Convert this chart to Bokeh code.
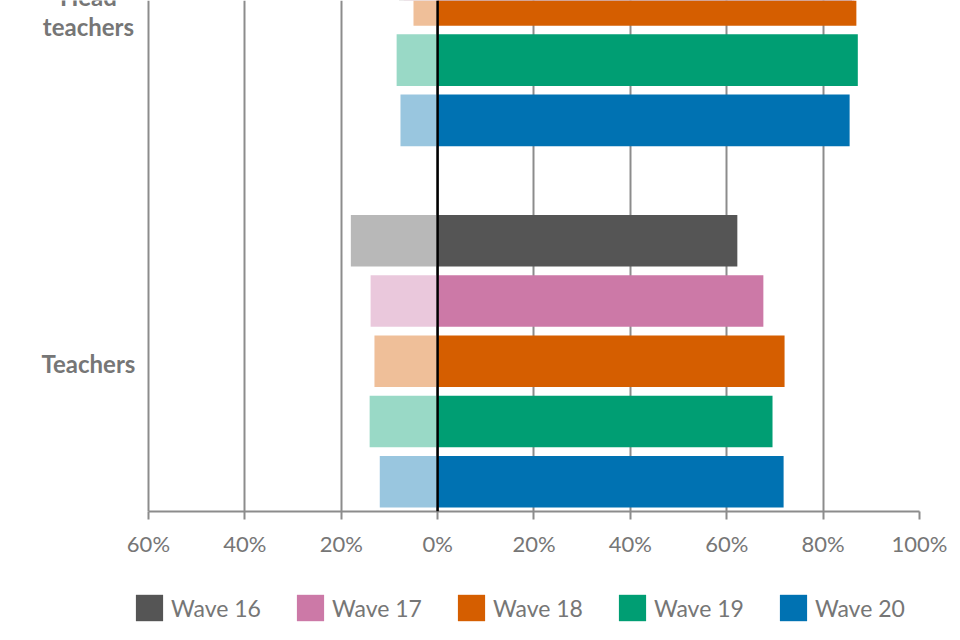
from bokeh.plotting import figure
from bokeh.models import Span, Legend, LegendItem, FixedTicker, Range1d, ColumnDataSource
from bokeh.layouts import column
from bokeh.core.properties import value
from bokeh.embed import file_html
from bokeh.resources import INLINE

groups = ["Teachers", "Head teachers"]
waves = ["Wave 16", "Wave 17", "Wave 18", "Wave 19", "Wave 20"]
# share (fraction) per group and wave: negative side and positive side
teachers_neg = [-0.180, -0.139, -0.131, -0.141, -0.120]
teachers_pos = [0.622, 0.676, 0.720, 0.695, 0.718]
head_neg = [-0.080, -0.070, -0.050, -0.085, -0.077]
head_pos = [0.860, 0.865, 0.869, 0.872, 0.855]
dark_colors = ["#555555", "#cc79a7", "#d55e00", "#009e73", "#0072b2"]
light_colors = ["#b8b8b8", "#eac8dc", "#efbf99", "#99d9c6", "#99c6df"]
x_ticks = [-0.6, -0.4, -0.2, 0.0, 0.2, 0.4, 0.6, 0.8, 1.0]
x_tick_labels = ["60%", "40%", "20%", "0%", "20%", "40%", "60%", "80%", "100%"]

TEXT = "#767676"
GRID = "#8c8c8c"
FONT = "Lato"

n = len(waves)
# slot positions: Teachers waves 16..20 -> 4..0, Head teachers -> 10..6
teach_y = [n - 1 - i for i in range(n)]
head_y = [2 * n - i for i in range(n)]
centers = [sum(teach_y) / n, sum(head_y) / n]

# the frame also holds the category-label column left of the -60% line
p = figure(frame_width=919, frame_height=511, output_backend="svg",
           toolbar_location=None,
           x_range=Range1d(-0.907, 1.0), y_range=Range1d(-0.495, 7.99),
           min_border_left=0, min_border_right=41, min_border_top=0,
           min_border_bottom=49)
p.outline_line_color = None
p.background_fill_color = "white"
p.border_fill_color = "white"
p.yaxis.visible = False

for i in range(n):
    ys = [teach_y[i], head_y[i]]
    p.hbar(y=ys, left=[teachers_neg[i], head_neg[i]], right=0, height=0.857,
           fill_color=light_colors[i], line_color=None)
    p.hbar(y=ys, left=0, right=[teachers_pos[i], head_pos[i]], height=0.857,
           fill_color=dark_colors[i], line_color=None)

p.add_layout(Span(location=0, dimension="height", line_color="black", line_width=2.5))

# category labels (wrapped like the original), one text row per line
line_px = 30
lab_text, lab_y, lab_off = [], [], []
for g, c, shift in zip(groups, centers, [2, 12]):
    words = g.split(" ")
    k = len(words)
    for j, w in enumerate(words):
        lab_text.append(w)
        lab_y.append(c)
        lab_off.append(shift + (j - (k - 1) / 2) * line_px)
lab_src = ColumnDataSource(dict(x=[x_ticks[0]] * len(lab_text), y=lab_y,
                                text=lab_text, yo=lab_off))
p.text(x="x", y="y", text="text", y_offset="yo", x_offset=-60, source=lab_src,
       text_align="center", text_baseline="middle", text_font=value(FONT),
       text_font_style="bold", text_font_size="24px", text_color=TEXT)

# x axis
p.xaxis.ticker = FixedTicker(ticks=x_ticks)
p.xaxis.bounds = (x_ticks[0], x_ticks[-1])
p.xaxis.major_label_overrides = {t: l for t, l in zip(x_ticks, x_tick_labels)}
p.xaxis.axis_line_color = GRID
p.xaxis.axis_line_width = 2
p.xaxis.major_tick_line_color = GRID
p.xaxis.major_tick_line_width = 2
p.xaxis.major_tick_out = 8
p.xaxis.major_tick_in = 0
p.xaxis.minor_tick_line_color = None
p.xaxis.major_label_text_font = FONT
p.xaxis.major_label_text_font_size = "22px"
p.xaxis.major_label_text_color = TEXT
p.xaxis.major_label_standoff = 10

p.xgrid.ticker = FixedTicker(ticks=x_ticks)
p.xgrid.grid_line_color = GRID
p.xgrid.grid_line_width = 2
p.ygrid.grid_line_color = None

# legend strip below the chart (zero-size swatch renderers feed the legend)
lg = figure(width=960, height=80, output_backend="svg", toolbar_location=None,
            x_range=Range1d(0, 1), y_range=Range1d(0, 1),
            min_border_left=0, min_border_right=0, min_border_top=0,
            min_border_bottom=0)
lg.outline_line_color = None
lg.axis.visible = False
lg.grid.grid_line_color = None
items = []
for i in range(n):
    r = lg.hbar(y=[0], left=[0], right=[0], height=0,
                fill_color=dark_colors[i], line_color=None)
    items.append(LegendItem(label=waves[i], renderers=[r]))
legend = Legend(items=items, orientation="horizontal", location=(132, 16),
                glyph_width=34, glyph_height=33, label_standoff=5, spacing=32,
                label_text_font=FONT, label_text_font_size="23px",
                label_text_color=TEXT, border_line_color=None,
                background_fill_alpha=0, padding=6, margin=0)
lg.add_layout(legend)

layout = column(p, lg, spacing=0)
open("out.html", "w").write(file_html(layout, INLINE))
